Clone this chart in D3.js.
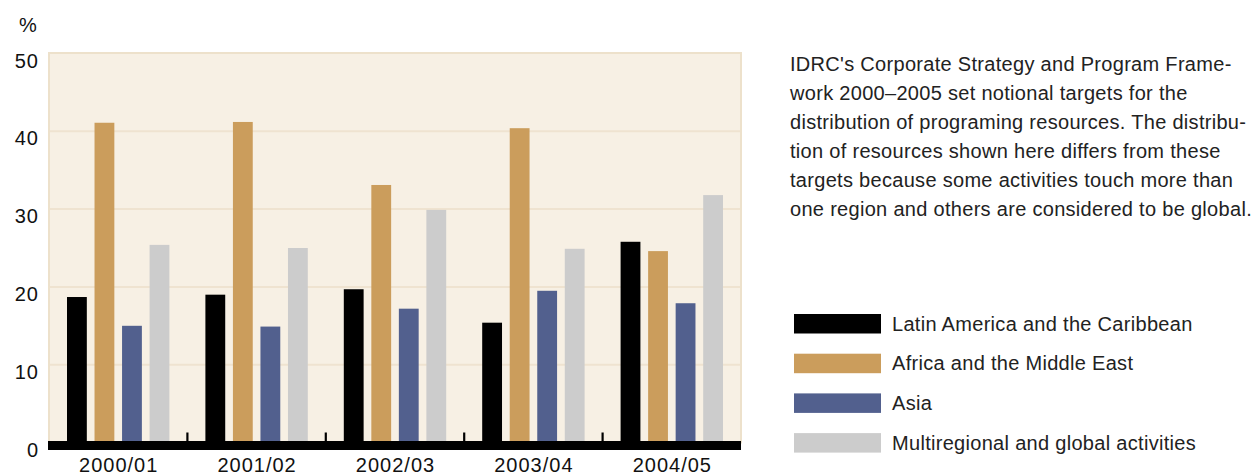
<!DOCTYPE html>
<html>
<head>
<meta charset="utf-8">
<script src="https://cdn.jsdelivr.net/npm/d3@7"></script>
<style>
  body { margin: 0; background: #fff; }
  svg text { font-family: "Liberation Sans", Arial, Helvetica, sans-serif; fill: #111; }
</style>
</head>
<body>
<svg id="chart" width="1254" height="475"></svg>
<script>
// data
var years = ["2000/01", "2001/02", "2002/03", "2003/04", "2004/05"];
var regions = ["Latin America and the Caribbean", "Africa and the Middle East", "Asia", "Multiregional and global activities"];
var latinAmerica = [18.7, 19.0, 19.7, 15.4, 25.8];
var africa = [41.1, 41.2, 33.1, 40.4, 24.6];
var asia = [15.0, 14.9, 17.2, 19.5, 17.9];
var multiregional = [25.4, 25.0, 29.9, 24.9, 31.8];
var yTicks = [0, 10, 20, 30, 40, 50];
var note = [
    "IDRC's Corporate Strategy and Program Frame-",
    "work 2000\u20132005 set notional targets for the",
    "distribution of programing resources. The distribu-",
    "tion of resources shown here differs from these",
    "targets because some activities touch more than",
    "one region and others are considered to be global."
];

var series = [latinAmerica, africa, asia, multiregional];
var colors = ["#000000", "#cb9d5c", "#52608e", "#cccccc"];

var svg = d3.select("#chart");

var plot = { left: 49, right: 741, top: 53.5, bottom: 442.5 };

var x = d3.scaleBand()
    .domain(years)
    .range([plot.left, plot.right]);

// bars are 20px wide on a ~27.7px step inside each band
var x1 = d3.scaleBand()
    .domain(d3.range(series.length))
    .range([18, x.bandwidth() - 18])
    .paddingInner(0.28)
    .paddingOuter(0);

var y = d3.scaleLinear()
    .domain([0, 50])
    .range([plot.bottom, plot.top]);

// plot background + border
svg.append("rect")
    .attr("x", plot.left)
    .attr("y", plot.top - 0.5)
    .attr("width", plot.right - plot.left)
    .attr("height", plot.bottom - plot.top + 0.5)
    .attr("fill", "#f7f0e4")
    .attr("stroke", "#ede1cb")
    .attr("stroke-width", 2);

// gridlines
svg.append("g")
    .selectAll("line")
    .data(yTicks.filter(d => d > 0 && d < 50))
    .join("line")
        .attr("x1", plot.left + 1)
        .attr("x2", plot.right - 1)
        .attr("y1", d => y(d))
        .attr("y2", d => y(d))
        .attr("stroke", "#efe3d0")
        .attr("stroke-width", 2);

// y labels sit just under each gridline
svg.append("g")
    .selectAll("text")
    .data(yTicks)
    .join("text")
        .attr("x", 39)
        .attr("y", d => y(d) + 14)
        .attr("text-anchor", "end")
        .style("font-size", "20px")
        .style("letter-spacing", "1px")
        .text(d => d);

svg.append("text")
    .attr("x", 19)
    .attr("y", 32)
    .style("font-size", "20px")
    .text("%");

// bars
var groups = svg.append("g")
    .selectAll("g")
    .data(years)
    .join("g")
        .attr("transform", d => "translate(" + x(d) + ",0)");

groups.selectAll("rect")
    .data((d, i) => series.map((s, k) => ({ k: k, v: s[i] })))
    .join("rect")
        .attr("x", d => x1(d.k))
        .attr("width", x1.bandwidth())
        .attr("y", d => y(d.v))
        .attr("height", d => y(0) - y(d.v))
        .attr("fill", d => colors[d.k]);

// thick baseline and category separators
svg.append("rect")
    .attr("x", plot.left - 1)
    .attr("y", plot.bottom - 1.5)
    .attr("width", plot.right - plot.left + 1)
    .attr("height", 9)
    .attr("fill", "#000");

svg.append("g")
    .selectAll("line")
    .data(years.slice(1))
    .join("line")
        .attr("x1", d => x(d))
        .attr("x2", d => x(d))
        .attr("y1", plot.bottom - 10)
        .attr("y2", plot.bottom)
        .attr("stroke", "#000")
        .attr("stroke-width", 2.2);

// x labels
svg.append("g")
    .selectAll("text")
    .data(years)
    .join("text")
        .attr("x", d => x(d) + x.bandwidth() / 2 + 0.5)
        .attr("y", 472)
        .attr("text-anchor", "middle")
        .style("font-size", "20px")
        .style("letter-spacing", "1px")
        .text(d => d);

// note text
svg.append("g")
    .selectAll("text")
    .data(note)
    .join("text")
        .attr("x", 790)
        .attr("y", (d, i) => 70.5 + i * 29)
        .style("font-size", "20px")
        .style("letter-spacing", "0.3px")
        .style("fill", "#222")
        .text(d => d);

// legend
var legend = svg.append("g")
    .selectAll("g")
    .data(regions)
    .join("g")
        .attr("transform", (d, i) => "translate(794," + (314 + i * 39.7) + ")");

legend.append("rect")
    .attr("width", 87)
    .attr("height", 19.5)
    .attr("fill", (d, i) => colors[i]);

legend.append("text")
    .attr("x", 98)
    .attr("y", 16.5)
    .style("font-size", "20px")
    .style("letter-spacing", "0.3px")
    .style("fill", "#222")
    .text(d => d);
</script>
</body>
</html>
